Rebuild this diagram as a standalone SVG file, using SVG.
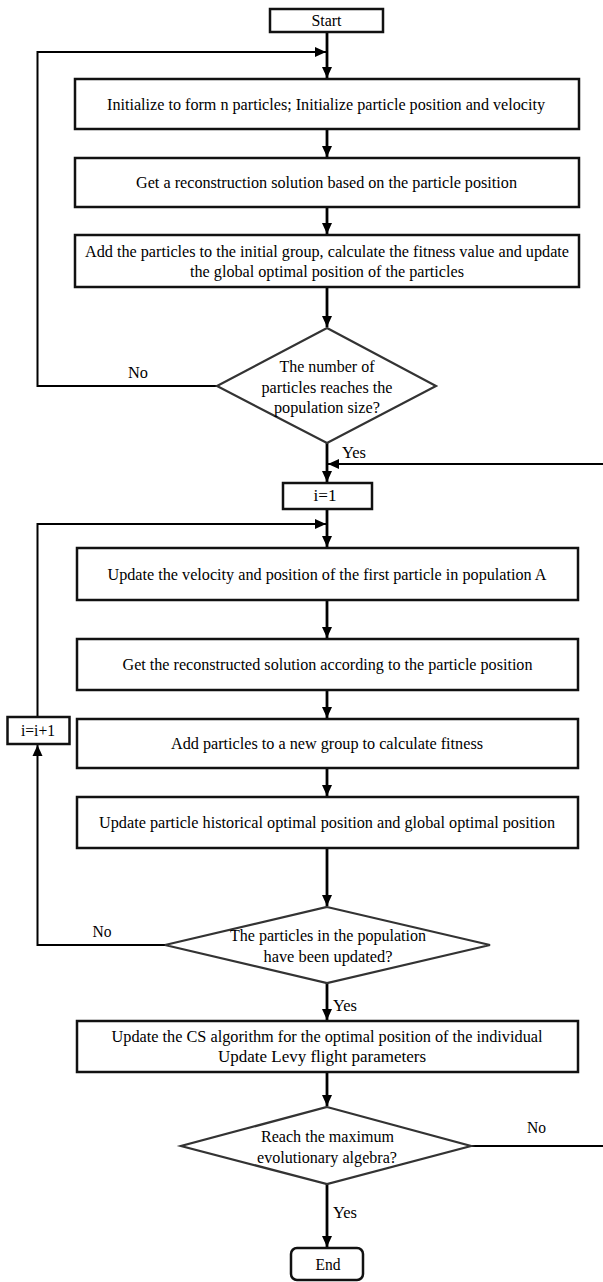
<svg xmlns="http://www.w3.org/2000/svg" width="603" height="1282" viewBox="0 0 603 1282">
<style>
.box{fill:#fff;stroke:#111;stroke-width:2.5}
.dia{fill:#fff;stroke:#333;stroke-width:2.2}
.t{font-family:"Liberation Serif","Times New Roman",serif;font-size:16px;fill:#000;text-anchor:middle}
.l{font-family:"Liberation Serif","Times New Roman",serif;font-size:16px;fill:#000}
.c{fill:none;stroke:#000;stroke-width:2.8}
.c2{fill:none;stroke:#000;stroke-width:2}
</style>
<defs>
<marker id="a" markerUnits="userSpaceOnUse" markerWidth="12" markerHeight="12" viewBox="0 0 12 12" refX="11" refY="6" orient="auto">
<path d="M0,1 L11,6 L0,11 Z" fill="#000"/>
</marker>
</defs>
<g id="connectors">
<path class="c" d="M327,32 V78" marker-end="url(#a)"/>
<path class="c" d="M327,129 V157" marker-end="url(#a)"/>
<path class="c" d="M327,207 V234" marker-end="url(#a)"/>
<path class="c" d="M327,287 V327" marker-end="url(#a)"/>
<path class="c2" d="M217,386 H37.5 V52 H326" marker-end="url(#a)"/>
<path class="c" d="M327,443 V482" marker-end="url(#a)"/>
<path class="c2" d="M603,464 H328" marker-end="url(#a)"/>
<path class="c" d="M327,509 V547" marker-end="url(#a)"/>
<path class="c2" d="M37.5,717 V524 H326" marker-end="url(#a)"/>
<path class="c" d="M327,600 V638" marker-end="url(#a)"/>
<path class="c" d="M327,690 V718" marker-end="url(#a)"/>
<path class="c" d="M327,768 V796" marker-end="url(#a)"/>
<path class="c" d="M327,848 V906" marker-end="url(#a)"/>
<path class="c2" d="M165,945 H37.5 V745" marker-end="url(#a)"/>
<path class="c" d="M327,983 V1020" marker-end="url(#a)"/>
<path class="c" d="M327,1072 V1106" marker-end="url(#a)"/>
<path class="c2" d="M471,1146 H603"/>
<path class="c" d="M327,1184 V1247" marker-end="url(#a)"/>
</g>
<g id="start"><rect class="box" x="270" y="9" width="113" height="23"/><text class="t" x="326.5" y="26" textLength="30" lengthAdjust="spacingAndGlyphs">Start</text></g>
<g id="init"><rect class="box" x="75" y="79" width="504" height="50"/><text class="t" x="326" y="110" textLength="438" lengthAdjust="spacingAndGlyphs">Initialize to form n particles; Initialize particle position and velocity</text></g>
<g id="recon1"><rect class="box" x="75" y="158" width="504" height="49"/><text class="t" x="326.5" y="188" textLength="381" lengthAdjust="spacingAndGlyphs">Get a reconstruction solution based on the particle position</text></g>
<g id="addinit"><rect class="box" x="75" y="235" width="504" height="52"/><text class="t" x="327" y="257" textLength="484" lengthAdjust="spacingAndGlyphs">Add the particles to the initial group, calculate the fitness value and update</text><text class="t" x="327" y="277" textLength="274" lengthAdjust="spacingAndGlyphs">the global optimal position of the particles</text></g>
<g id="dec1"><polygon class="dia" points="327,328 436,386 327,443 217,386"/><text class="t" x="327" y="372" textLength="95" lengthAdjust="spacingAndGlyphs">The number of</text><text class="t" x="327" y="393" textLength="131" lengthAdjust="spacingAndGlyphs">particles reaches the</text><text class="t" x="327" y="413" textLength="106" lengthAdjust="spacingAndGlyphs">population size?</text></g>
<text class="t" x="138" y="378" textLength="20" lengthAdjust="spacingAndGlyphs">No</text>
<text class="l" x="342" y="458" textLength="24" lengthAdjust="spacingAndGlyphs">Yes</text>
<g id="i1"><rect class="box" x="283" y="483" width="89" height="26"/><text class="t" x="325" y="501" textLength="23" lengthAdjust="spacingAndGlyphs">i=1</text></g>
<g id="upd1"><rect class="box" x="77" y="548" width="501" height="52"/><text class="t" x="327" y="580" textLength="439" lengthAdjust="spacingAndGlyphs">Update the velocity and position of the first particle in population A</text></g>
<g id="recon2"><rect class="box" x="77" y="639" width="501" height="51"/><text class="t" x="327.5" y="670" textLength="410" lengthAdjust="spacingAndGlyphs">Get the reconstructed solution according to the particle position</text></g>
<g id="inc"><rect class="box" x="7.5" y="717" width="62" height="27"/><text class="t" x="38" y="736" textLength="34" lengthAdjust="spacingAndGlyphs">i=i+1</text></g>
<g id="addnew"><rect class="box" x="77" y="719" width="501" height="49"/><text class="t" x="327" y="749" textLength="312" lengthAdjust="spacingAndGlyphs">Add particles to a new group to calculate fitness</text></g>
<g id="updhist"><rect class="box" x="77" y="797" width="501" height="51"/><text class="t" x="327" y="828" textLength="456" lengthAdjust="spacingAndGlyphs">Update particle historical optimal position and global optimal position</text></g>
<g id="dec2"><polygon class="dia" points="327,907 490,945 327,983 165,945"/><text class="t" x="328" y="941" textLength="196" lengthAdjust="spacingAndGlyphs">The particles in the population</text><text class="t" x="328" y="962" textLength="129" lengthAdjust="spacingAndGlyphs">have been updated?</text></g>
<text class="t" x="102" y="937" textLength="19" lengthAdjust="spacingAndGlyphs">No</text>
<text class="l" x="333" y="1011" textLength="24" lengthAdjust="spacingAndGlyphs">Yes</text>
<g id="cs"><rect class="box" x="77" y="1021" width="501" height="51"/><text class="t" x="327" y="1042" textLength="431" lengthAdjust="spacingAndGlyphs">Update the CS algorithm for the optimal position of the individual</text><text class="t" x="322" y="1062" textLength="208" lengthAdjust="spacingAndGlyphs">Update Levy flight parameters</text></g>
<g id="dec3"><polygon class="dia" points="327,1107 471,1146 327,1184 181,1146"/><text class="t" x="327.5" y="1142" textLength="133" lengthAdjust="spacingAndGlyphs">Reach the maximum</text><text class="t" x="327" y="1163" textLength="140" lengthAdjust="spacingAndGlyphs">evolutionary algebra?</text></g>
<text class="t" x="536.5" y="1133" textLength="19" lengthAdjust="spacingAndGlyphs">No</text>
<text class="l" x="333" y="1218" textLength="24" lengthAdjust="spacingAndGlyphs">Yes</text>
<g id="end"><rect class="box" x="291" y="1248" width="72" height="32" rx="6"/><text class="t" x="328" y="1270" textLength="25" lengthAdjust="spacingAndGlyphs">End</text></g>
</svg>
